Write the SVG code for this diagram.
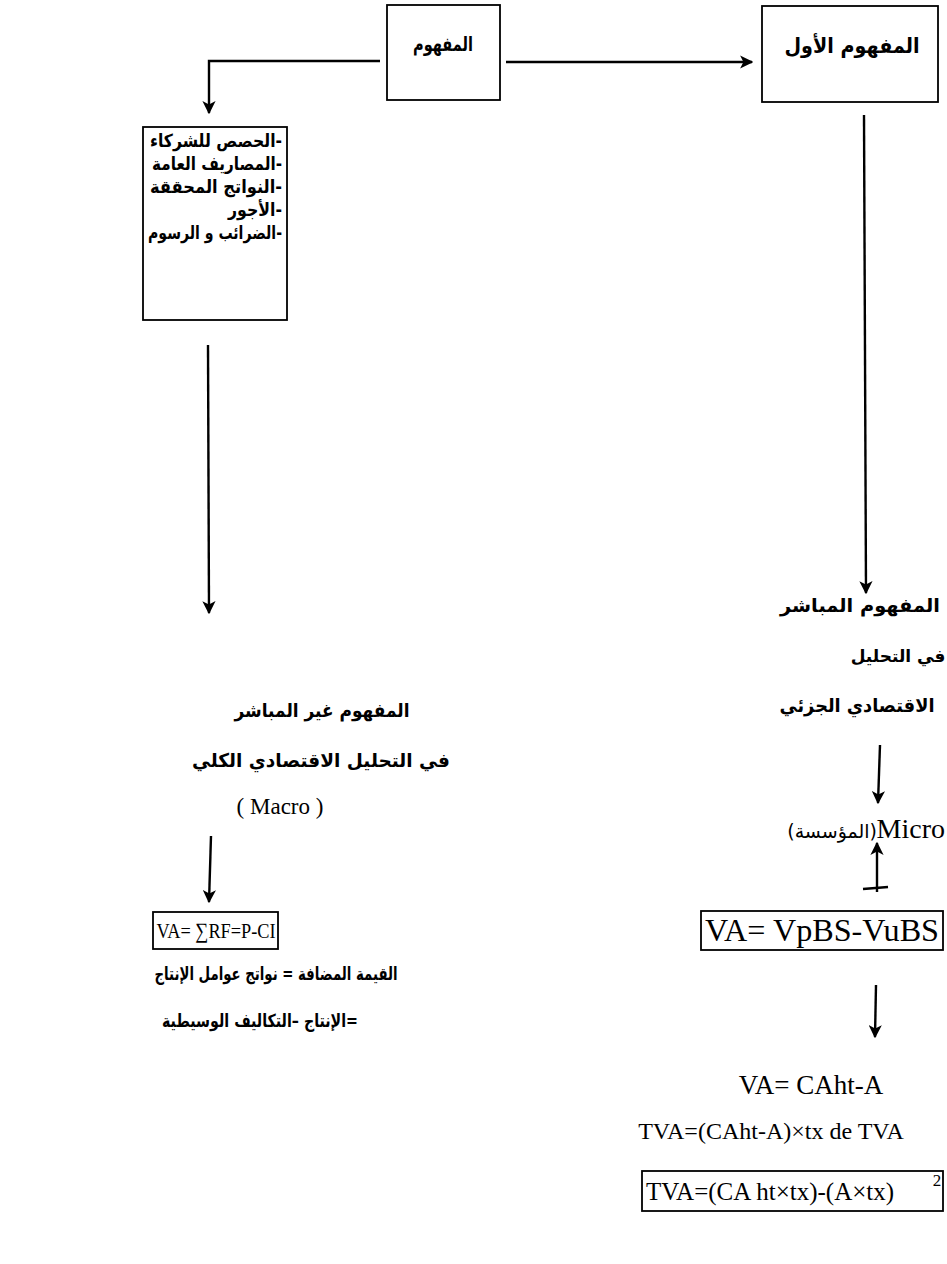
<svg xmlns="http://www.w3.org/2000/svg" width="947" height="1264" viewBox="0 0 947 1264">
<style>
.bg{fill:#fff}
.box{fill:none;stroke:#000;stroke-width:1.8}
.ar{font-family:"DejaVu Sans","Noto Sans",sans-serif;font-size:18px;font-weight:bold;fill:#000}
.lat{font-family:"Liberation Serif","Times New Roman",serif;fill:#000}
.con{fill:none;stroke:#000;stroke-width:2.4;marker-end:url(#ah)}
.plain{fill:none;stroke:#000;stroke-width:2.6}
</style>
<defs>
<marker id="ah" viewBox="0 0 10 10" refX="9" refY="5" markerWidth="5.5" markerHeight="5.5" orient="auto" markerUnits="strokeWidth">
<path d="M0,0 L10,5 L0,10 L2.5,5 z" fill="#000"/>
</marker>
</defs>
<rect class="bg" x="0" y="0" width="947" height="1264"/>

<g id="connectors">
<path class="con" d="M380,61 H209 V113"/>
<path class="con" d="M506,62 H752"/>
<path class="con" d="M864,115 L866,593"/>
<path class="con" d="M208,345 L209,613"/>
<path class="con" d="M211,836 L209,902"/>
<path class="con" d="M880,745 L878,803"/>
<path class="con" d="M877,892 L877,843"/>
<path class="plain" d="M863,889 L888,887"/>
<path class="con" d="M876,985 L875,1037"/>
</g>

<g id="node-mafhoum">
<rect class="box" x="387" y="5" width="113" height="95"/>
<text class="ar" x="443" y="51" text-anchor="middle" direction="rtl" style="font-size:20px" textLength="60" lengthAdjust="spacingAndGlyphs">المفهوم</text>
</g>

<g id="node-mafhoum-awal">
<rect class="box" x="762" y="6" width="176" height="96"/>
<text class="ar" x="852" y="53" text-anchor="middle" direction="rtl" style="font-size:21px" textLength="135" lengthAdjust="spacingAndGlyphs">المفهوم الأول</text>
</g>

<g id="node-list">
<rect class="box" x="143" y="127" width="144" height="193"/>
<text class="ar" x="216" y="147" text-anchor="middle" direction="rtl" textLength="132" lengthAdjust="spacingAndGlyphs">-الحصص للشركاء</text>
<text class="ar" x="217" y="170" text-anchor="middle" direction="rtl" textLength="130" lengthAdjust="spacingAndGlyphs">-المصاريف العامة</text>
<text class="ar" x="216" y="193" text-anchor="middle" direction="rtl" textLength="132" lengthAdjust="spacingAndGlyphs">-النواتج المحققة</text>
<text class="ar" x="255" y="216" text-anchor="middle" direction="rtl" textLength="54" lengthAdjust="spacingAndGlyphs">-الأجور</text>
<text class="ar" x="215" y="239" text-anchor="middle" direction="rtl" textLength="134" lengthAdjust="spacingAndGlyphs">-الضرائب و الرسوم</text>
</g>

<g id="node-indirect">
<text class="ar" x="322" y="717" text-anchor="middle" direction="rtl" style="font-size:19px" textLength="175" lengthAdjust="spacingAndGlyphs">المفهوم غير المباشر</text>
<text class="ar" x="321" y="767" text-anchor="middle" direction="rtl" style="font-size:19px" textLength="258" lengthAdjust="spacingAndGlyphs">في التحليل الاقتصادي الكلي</text>
<text class="lat" x="280" y="814" text-anchor="middle" style="font-size:23px">( Macro )</text>
</g>

<g id="node-va-macro">
<rect class="box" x="153" y="912" width="125" height="37"/>
<text class="lat" x="216" y="938" text-anchor="middle" style="font-size:22px" textLength="119" lengthAdjust="spacingAndGlyphs">VA= ∑RF=P-CI</text>
</g>

<g id="node-va-text">
<text class="ar" x="276" y="980" text-anchor="middle" direction="rtl" textLength="243" lengthAdjust="spacingAndGlyphs">القيمة المضافة = نواتج عوامل الإنتاج</text>
<text class="ar" x="260" y="1027" text-anchor="middle" direction="rtl" textLength="196" lengthAdjust="spacingAndGlyphs">=الإنتاج –التكاليف الوسيطية</text>
</g>

<g id="node-direct">
<text class="ar" x="860" y="612" text-anchor="middle" direction="rtl" style="font-size:19px" textLength="160" lengthAdjust="spacingAndGlyphs">المفهوم المباشر</text>
<text class="ar" x="898" y="662" text-anchor="middle" direction="rtl" style="font-size:17px">في التحليل</text>
<text class="ar" x="857" y="712" text-anchor="middle" direction="rtl" style="font-size:19px" textLength="155" lengthAdjust="spacingAndGlyphs">الاقتصادي الجزئي</text>
</g>

<g id="node-micro">
<text class="lat" x="945" y="838" text-anchor="end" style="font-size:28px">Micro</text>
<text class="ar" x="877" y="838" text-anchor="end" style="font-weight:normal;font-size:19px">(المؤسسة)</text>
</g>

<g id="node-va-micro">
<rect class="box" x="701" y="911" width="242" height="39"/>
<text class="lat" x="822" y="941" text-anchor="middle" style="font-size:32px" textLength="234" lengthAdjust="spacingAndGlyphs">VA= VpBS-VuBS</text>
</g>

<g id="node-formulas">
<text class="lat" x="811" y="1094" text-anchor="middle" style="font-size:27px">VA= CAht-A</text>
<text class="lat" x="771" y="1139" text-anchor="middle" style="font-size:24px">TVA=(CAht-A)×tx de TVA</text>
</g>

<g id="node-tva">
<rect class="box" x="642" y="1171" width="301" height="40"/>
<text class="lat" x="646" y="1200" style="font-size:25px">TVA=(CA ht×tx)-(A×tx)</text>
<text class="lat" x="937" y="1186" text-anchor="middle" style="font-size:17px">2</text>
</g>
</svg>
